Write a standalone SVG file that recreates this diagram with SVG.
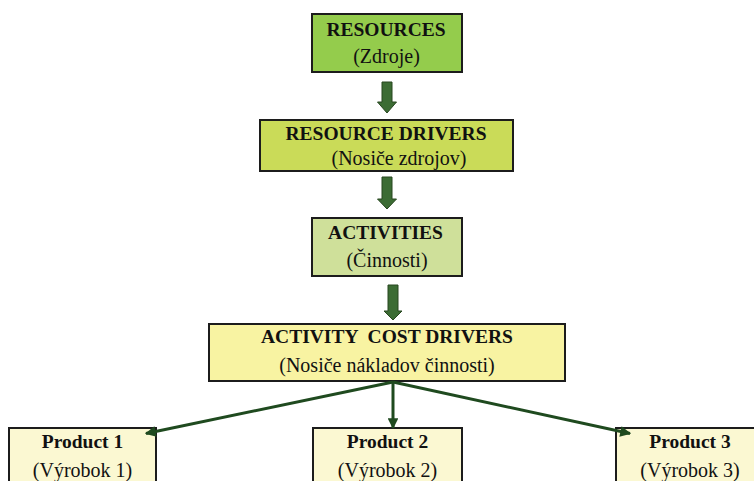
<svg xmlns="http://www.w3.org/2000/svg" width="754" height="481" viewBox="0 0 754 481">
<defs>
<style>
.box{stroke:#1c1c1c;stroke-width:2}
.t{font-family:"Liberation Serif","Times New Roman",serif;fill:#111;text-anchor:middle}
.b{font-weight:bold;font-size:19.5px}
.r{font-size:20px}
.blk{fill:#3c6c34;stroke:#27461f;stroke-width:1}
.ln{stroke:#1f4a1f;stroke-width:3;fill:none}
</style>
<marker id="ah" viewBox="0 0 10 10" refX="9" refY="5" markerWidth="4" markerHeight="3.6" orient="auto" markerUnits="strokeWidth">
<path d="M0,0 L10,5 L0,10 z" fill="#1f4a1f"/>
</marker>
</defs>
<rect width="754" height="481" fill="#fff"/>
<g id="resources">
<rect class="box" x="312" y="14" width="150" height="58" fill="#94cc4c"/>
<text class="t b" x="386" y="36">RESOURCES</text>
<text class="t r" x="386.5" y="63">(Zdroje)</text>
</g>
<g id="resource-drivers">
<rect class="box" x="260" y="120" width="253" height="51" fill="#cadb58"/>
<text class="t b" x="386" y="140">RESOURCE DRIVERS</text>
<text class="t r" x="399" y="165">(Nosiče zdrojov)</text>
</g>
<g id="activities">
<rect class="box" x="312" y="218" width="150" height="58" fill="#cfe09a"/>
<text class="t b" x="385.5" y="239">ACTIVITIES</text>
<text class="t r" x="387" y="266.5">(Činnosti)</text>
</g>
<g id="activity-cost-drivers">
<rect class="box" x="209" y="324" width="356" height="57" fill="#f8f3a2"/>
<text class="t b" x="387" y="343" xml:space="preserve">ACTIVITY  COST DRIVERS</text>
<text class="t r" x="387" y="371.5">(Nosiče nákladov činnosti)</text>
</g>
<g id="product1">
<rect class="box" x="9" y="428" width="147" height="62" fill="#fbf8d2"/>
<text class="t b" x="82.5" y="448">Product 1</text>
<text class="t r" x="82.5" y="476.5">(Výrobok 1)</text>
</g>
<g id="product2">
<rect class="box" x="313" y="428" width="149" height="62" fill="#fbf8d2"/>
<text class="t b" x="387.5" y="448">Product 2</text>
<text class="t r" x="387.5" y="476.5">(Výrobok 2)</text>
</g>
<g id="product3">
<rect class="box" x="616" y="428" width="150" height="62" fill="#fbf8d2"/>
<text class="t b" x="690" y="448">Product 3</text>
<text class="t r" x="690" y="476.5">(Výrobok 3)</text>
</g>
<g id="connectors">
<polygon class="blk" points="382,82 392,82 392,102 396.5,102 387,113 377.5,102 382,102"/>
<polygon class="blk" points="382,177 392,177 392,199 396.5,199 387,209 377.5,199 382,199"/>
<polygon class="blk" points="388,285 398,285 398,311 402,311 393,320 384,311 388,311"/>
<line class="ln" x1="393" y1="382" x2="146" y2="433.5" marker-end="url(#ah)"/>
<line class="ln" x1="393" y1="382" x2="393" y2="428" marker-end="url(#ah)"/>
<line class="ln" x1="393" y1="382" x2="630" y2="433.5" marker-end="url(#ah)"/>
</g>
</svg>
